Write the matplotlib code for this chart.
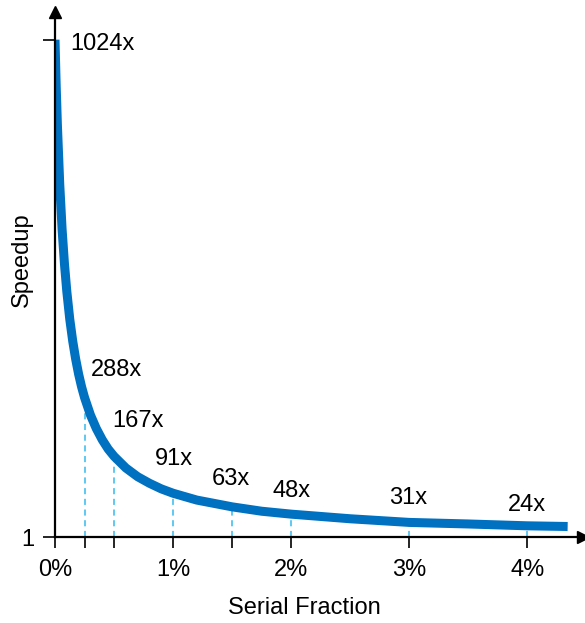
import matplotlib.pyplot as plt

plt.rcParams['font.family'] = ['Liberation Sans', 'DejaVu Sans']

# serial fraction and speedup
frac = [0, 0.0001, 0.0002, 0.0004, 0.0006, 0.0008, 0.001, 0.00125, 0.0015, 0.00175,
        0.002, 0.00225, 0.0025, 0.003, 0.0035, 0.004, 0.0045, 0.005, 0.006, 0.007,
        0.008, 0.009, 0.01, 0.012, 0.015, 0.0175, 0.02, 0.025, 0.03, 0.035,
        0.04, 0.0434]
speedup = [1024, 929, 850, 727, 634, 563, 506, 449, 404, 367,
           336, 310, 288, 252, 224, 201, 182, 167, 143, 125,
           111.5, 100, 91, 77, 63, 54, 48, 38.5, 31, 27.8,
           24, 22.6]

# marked points
mark_x = [0.0025, 0.005, 0.01, 0.015, 0.02, 0.03, 0.04]
mark_y = [288, 167, 91, 63, 48, 31, 24]
labels = ['1024x', '288x', '167x', '91x', '63x', '48x', '31x', '24x']
label_x = [0.00127, 0.00305, 0.00483, 0.00847, 0.01331, 0.01839, 0.0283, 0.0383]
label_y = [1015, 345, 240, 161, 120, 96, 81, 67]

xticks = [0, 0.0025, 0.005, 0.01, 0.015, 0.02, 0.03, 0.04]
xticklabels = ['0%', '', '', '1%', '', '2%', '3%', '4%']

fig = plt.figure(figsize=(5.85, 6.23), dpi=100)
ax = fig.add_axes([55/585, 86/623, 528/585, 525/623])

for x, y in zip(mark_x, mark_y):
    ax.plot([x, x], [1, y], color='#33BBEE', lw=1.1, ls=(0, (4, 3)), zorder=1)

ax.plot(frac, speedup, color='#0070C0', lw=6.5, solid_capstyle='butt',
        solid_joinstyle='round', zorder=2)

for t, x, y in zip(labels, label_x, label_y):
    ax.text(x, y, t, fontsize=17, va='center', ha='left')

ax.set_xlim(0, 0.0447)
ax.set_ylim(1, 1081)
ax.spines['top'].set_visible(False)
ax.spines['right'].set_visible(False)
ax.spines['left'].set_linewidth(1.6)
ax.spines['bottom'].set_linewidth(1.6)
ax.plot(1, 1, '>k', ms=9, transform=ax.get_yaxis_transform(), clip_on=False)
ax.plot(0, 1, '^k', ms=9, transform=ax.get_xaxis_transform(), clip_on=False)

ax.set_xticks(xticks)
ax.set_xticklabels(xticklabels, fontsize=17)
ax.set_yticks([1, 1024])
ax.set_yticklabels(['1', ''], fontsize=17)
ax.tick_params(axis='x', length=8, width=1.2, pad=8)
ax.tick_params(axis='y', length=9, width=1.2, pad=6)

ax.set_xlabel('Serial Fraction', fontsize=17)
ax.set_ylabel('Speedup', fontsize=17)
ax.xaxis.set_label_coords(0.473, -0.114)
ax.yaxis.set_label_coords(-0.042, 0.528)

fig.savefig('out.png', dpi=100)
